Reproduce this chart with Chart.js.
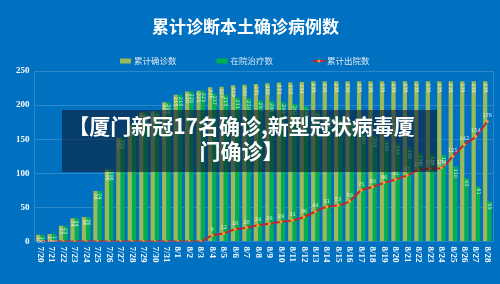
<!DOCTYPE html>
<html>
<head>
<meta charset="utf-8">
<script src="https://cdn.jsdelivr.net/npm/chart.js@4.4.1/dist/chart.umd.min.js"></script>
<style>
  html, body { margin: 0; padding: 0; background: #0070c0; }
  #wrap { position: relative; width: 500px; height: 284px; overflow: hidden; }
  #chart { position: absolute; left: 0; top: 0; }
  #banner {
    position: absolute; left: 62px; top: 110px; width: 375px; height: 62px;
    background: rgba(12, 28, 50, 0.6);
  }
  #bannerText {
    position: absolute; left: 62px; top: 113px; width: 359px;
    text-align: center; color: #fff;
    font: bold 21px "Noto Sans CJK SC", sans-serif; line-height: 25px;
  }
</style>
</head>
<body>
<div id="wrap">
  <canvas id="chart" width="500" height="284"></canvas>
  <div id="banner"></div>
  <div id="bannerText">【厦门新冠17名确诊,新型冠状病毒厦<br>门确诊】</div>
</div>
<script>
const TITLE = "累计诊断本土确诊病例数";

const DATES = [
  "7/20", "7/21", "7/22", "7/23", "7/24", "7/25", "7/26", "7/27", "7/28", "7/29",
  "7/30", "7/31", "8/1", "8/2", "8/3", "8/4", "8/5", "8/6", "8/7", "8/8",
  "8/9", "8/10", "8/11", "8/12", "8/13", "8/14", "8/15", "8/16", "8/17", "8/18",
  "8/19", "8/20", "8/21", "8/22", "8/23", "8/24", "8/25", "8/26", "8/27", "8/28"
];

// 累计确诊数
const CONFIRMED = [
  10, 11, 23, 34, 36, 74, 106, 152, 171, 189,
  191, 204, 215, 220, 221, 226, 227, 229, 230, 231,
  232, 233, 233, 234, 235, 235, 235, 235, 235, 235,
  235, 235, 235, 235, 235, 235, 235, 235, 235, 235
];

// 在院治疗数
const IN_HOSPITAL = [
  10, 11, 23, 34, 36, 74, 106, 152, 171, 189,
  191, 204, 215, 220, 221, 217, 215, 211, 210, 207,
  206, 204, 202, 198, 191, 184, 182, 176, 160, 155,
  149, 144, 138, 130, 128, 127, 110, 93, 81, 59
];

// 累计出院数
const DISCHARGED = [
  0, 0, 0, 0, 0, 0, 0, 0, 0, 0,
  0, 0, 0, 0, 0, 9, 12, 18, 20, 24,
  26, 29, 31, 36, 44, 51, 53, 59, 75, 80,
  86, 91, 97, 105, 107, 108, 125, 142, 154, 176
];

const Y_TICKS = [0, 50, 100, 150, 200, 250];

const LIGHT_GREEN = "#9bbb59";
const GREEN = "#00b050";
const RED = "#c0282d";
const ORANGE = "#f0a030";


// title, legend, x labels, value labels
const decorations = {
  id: "decorations",
  afterDraw(c) {
    const ctx = c.ctx;
    const area = c.chartArea;
    ctx.save();

    // right frame line
    ctx.strokeStyle = "rgba(255,255,255,0.16)";
    ctx.lineWidth = 1;
    ctx.beginPath();
    ctx.moveTo(Math.round(area.right) + 0.5, area.top);
    ctx.lineTo(Math.round(area.right) + 0.5, area.bottom);
    ctx.stroke();

    // title
    ctx.fillStyle = "#ffffff";
    ctx.font = 'bold 17px "Noto Sans CJK SC", sans-serif';
    ctx.textAlign = "center";
    ctx.textBaseline = "middle";
    ctx.fillText(TITLE, 245.5, 27);

    // legend
    ctx.font = '8.5px "Noto Sans CJK SC", sans-serif';
    ctx.textAlign = "left";
    let lx = 120;
    const ly = 61;
    c.data.datasets.forEach(ds => {
      if (ds.type === "line") {
        ctx.strokeStyle = ds.borderColor;
        ctx.lineWidth = 2;
        ctx.beginPath();
        ctx.moveTo(lx, ly);
        ctx.lineTo(lx + 12, ly);
        ctx.stroke();
        ctx.fillStyle = ORANGE;
        ctx.beginPath();
        ctx.arc(lx + 6, ly, 1.5, 0, Math.PI * 2);
        ctx.fill();
      } else {
        ctx.fillStyle = ds.backgroundColor;
        ctx.fillRect(lx, ly - 2.5, 11, 5);
      }
      ctx.fillStyle = "#dce6f2";
      ctx.fillText(ds.label, lx + 14, ly);
      lx += 14 + ctx.measureText(ds.label).width + 40;
    });

    // x labels, rotated, reading downwards
    const xs = c.scales.x;
    ctx.fillStyle = "#ffffff";
    ctx.font = 'bold 9px "Liberation Serif", serif';
    ctx.textAlign = "left";
    ctx.textBaseline = "middle";
    DATES.forEach((d, i) => {
      ctx.save();
      ctx.translate(xs.getPixelForValue(i), area.bottom + 5);
      ctx.rotate(Math.PI / 2);
      ctx.fillText(d, 0, 0);
      ctx.restore();
    });

    // value labels
    ctx.font = '5px "DejaVu Sans", sans-serif';
    ctx.fillStyle = "rgba(255,255,255,0.8)";
    [0, 1].forEach(di => {
      const meta = c.getDatasetMeta(di);
      meta.data.forEach((bar, i) => {
        ctx.save();
        ctx.translate(bar.x, bar.y + 2);
        ctx.rotate(Math.PI / 2);
        ctx.fillText(String(c.data.datasets[di].data[i]), 0, 0);
        ctx.restore();
      });
    });
    const lineMeta = c.getDatasetMeta(2);
    ctx.textAlign = "center";
    ctx.textBaseline = "bottom";
    lineMeta.data.forEach((pt, i) => {
      const v = DISCHARGED[i];
      if (!v) return;
      ctx.fillText(String(v), pt.x, pt.y - 3);
    });

    ctx.restore();
  }
};

new Chart(document.getElementById("chart"), {
  data: {
    labels: DATES,
    datasets: [
      {
        type: "bar",
        label: "累计确诊数",
        data: CONFIRMED,
        backgroundColor: LIGHT_GREEN,
        categoryPercentage: 0.74,
        barPercentage: 1.0,
        order: 2
      },
      {
        type: "bar",
        label: "在院治疗数",
        data: IN_HOSPITAL,
        backgroundColor: GREEN,
        categoryPercentage: 0.74,
        barPercentage: 1.0,
        order: 2
      },
      {
        type: "line",
        label: "累计出院数",
        data: DISCHARGED,
        borderColor: RED,
        borderWidth: 2,
        backgroundColor: RED,
        pointBackgroundColor: ORANGE,
        pointBorderWidth: 0,
        pointRadius: 1.5,
        tension: 0.3,
        order: 1
      }
    ]
  },
  options: {
    responsive: false,
    animation: false,
    events: [],
    layout: {
      padding: { top: 71, bottom: 42.5, left: 11, right: 7 }
    },
    plugins: {
      legend: { display: false },
      title: { display: false },
      tooltip: { enabled: false }
    },
    scales: {
      x: {
        display: false
      },
      y: {
        min: 0,
        max: 250,
        afterBuildTicks: axis => {
          axis.ticks = Y_TICKS.map(v => ({ value: v }));
        },
        grid: {
          color: "rgba(255,255,255,0.16)",
          drawTicks: false
        },
        border: { color: "rgba(255,255,255,0.16)" },
        ticks: {
          color: "#ffffff",
          padding: 5,
          font: { family: "Liberation Serif", size: 9, weight: "bold" }
        }
      }
    }
  },
  plugins: [decorations]
});
</script>
</body>
</html>
